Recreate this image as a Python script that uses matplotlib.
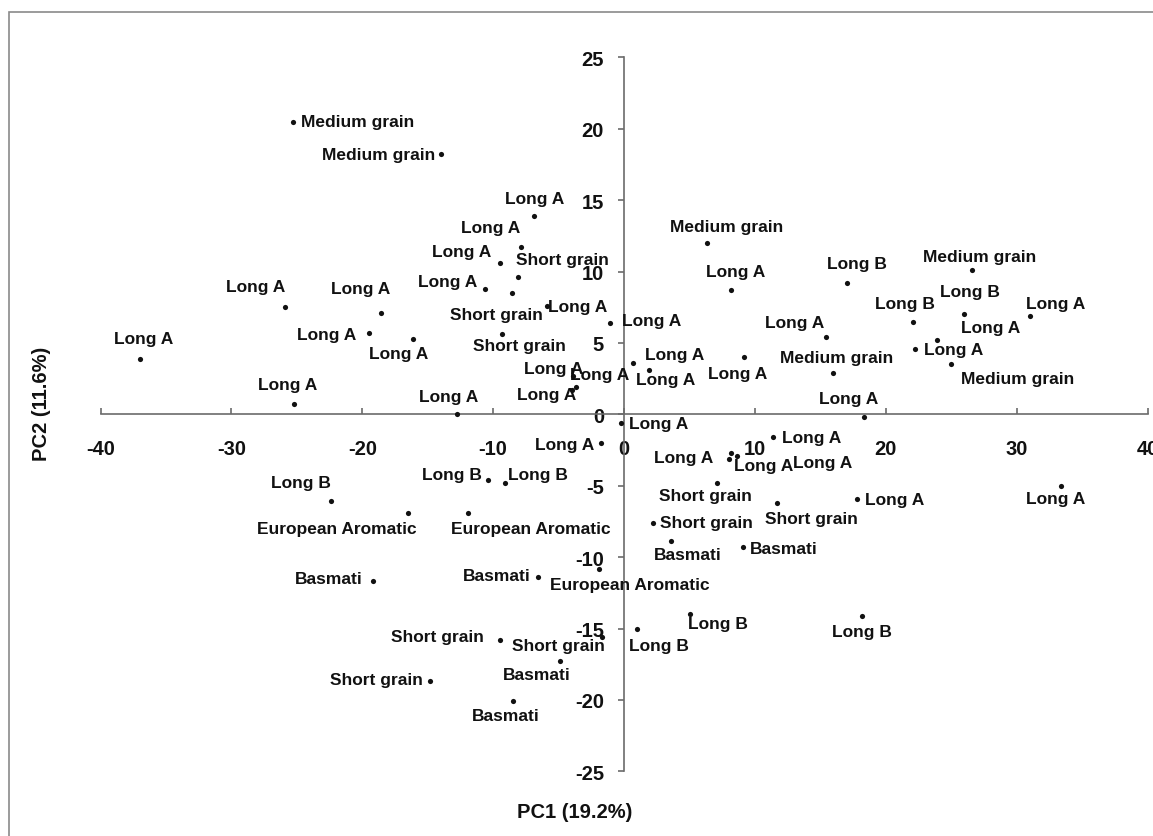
import matplotlib
matplotlib.use("Agg")
import matplotlib.pyplot as plt
from matplotlib.patches import Rectangle

plt.rcParams["font.family"] = ["Liberation Sans", "DejaVu Sans"]

# PCA scores of the rice samples (PC1, PC2) and their grain-type labels
pc1 = [-25.3, -14.0, -6.9, -7.9, -9.5, -8.1, -10.6, -8.6, -5.9, -1.1, -9.3,
       -25.9, -18.6, -19.5, -16.1, -37.0, -25.2, -12.8, -3.9, -4.0, -3.7,
       0.7, 1.9, -0.2, -1.8, 6.3, 8.2, 9.2, 17.0, 15.4, 16.0, 18.3, 22.1,
       22.2, 23.9, 25.0, 31.0, 26.6, 26.0, 11.4, 8.2, 8.6, 8.0, 17.8, 33.4,
       7.1, 2.2, 11.7, 3.6, 9.1, 18.2, 5.0, 1.0, -10.4, -9.1, -16.5, -11.9,
       -1.9, -6.6, -22.4, -19.2, -9.5, -1.7, -4.9, -14.8, -8.5]
pc2 = [20.5, 18.2, 13.9, 11.7, 10.6, 9.6, 8.8, 8.5, 7.6, 6.4, 5.6,
       7.5, 7.1, 5.7, 5.3, 3.9, 0.7, 0.0, 2.7, 1.7, 1.9,
       3.6, 3.1, -0.6, -2.0, 12.0, 8.7, 4.0, 9.2, 5.4, 2.9, -0.2, 6.5,
       4.6, 5.2, 3.5, 6.9, 10.1, 7.0, -1.6, -2.7, -2.9, -3.1, -5.9, -5.0,
       -4.8, -7.6, -6.2, -8.9, -9.3, -14.1, -14.0, -15.0, -4.6, -4.8, -6.9, -6.9,
       -10.8, -11.4, -6.1, -11.7, -15.8, -15.6, -17.3, -18.7, -20.1]
grain = ["Medium grain", "Medium grain", "Long A", "Long A", "Long A", "Short grain",
         "Long A", "Short grain", "Long A", "Long A", "Short grain",
         "Long A", "Long A", "Long A", "Long A", "Long A", "Long A", "Long A",
         "Long A", "Long A", "Long A",
         "Long A", "Long A", "Long A", "Long A", "Medium grain", "Long A", "Long A",
         "Long B", "Long A", "Medium grain", "Long A", "Long B",
         "Long A", "Long A", "Medium grain", "Long A", "Medium grain", "Long B",
         "Long A", "Long A", "Long A", "Long A", "Long A", "Long A",
         "Short grain", "Short grain", "Short grain", "Basmati", "Basmati",
         "Long B", "Long B", "Long B", "Long B", "Long B",
         "European Aromatic", "European Aromatic",
         "European Aromatic", "Basmati", "Long B", "Basmati",
         "Short grain", "Short grain", "Basmati", "Short grain", "Basmati"]

x_ticks = [-40, -30, -20, -10, 0, 10, 20, 30, 40]
y_ticks = [-25, -20, -15, -10, -5, 0, 5, 10, 15, 20, 25]

# label placement: pixel offset from the point (right, down) and alignment
label_pos = [
    (8, 0, "l"), (-6, 0, "r"), (1, -17, "c"), (-30, -20, "c"), (-8, -11, "r"),
    (-2, -18, "l"), (-8, -7, "r"), (-15, 22, "c"), (1, 1, "l"), (12, -2, "l"),
    (17, 11, "c"), (-29, -21, "c"), (-20, -24, "c"), (-13, 2, "r"), (-15, 15, "c"),
    (4, -20, "c"), (-7, -20, "c"), (-8, -18, "c"), (-19, -7, "c"), (-25, 4, "c"),
    (24, -13, "c"), (12, -8, "l"), (17, 9, "c"), (8, 1, "l"), (-6, 2, "r"),
    (20, -16, "c"), (4, -19, "c"), (-7, 16, "c"), (10, -19, "c"), (-31, -15, "c"),
    (3, -15, "c"), (-15, -19, "c"), (-8, -18, "c"), (9, 1, "l"), (54, -13, "c"),
    (10, 14, "l"), (26, -12, "c"), (7, -14, "c"), (6, -23, "c"), (9, 0, "l"),
    (62, 10, "l"), (27, 10, "c"), (-16, -1, "r"), (8, 1, "l"), (-6, 13, "c"),
    (-12, 13, "c"), (7, 0, "l"), (34, 16, "c"), (17, 13, "c"), (7, 1, "l"),
    (0, 16, "c"), (28, 9, "c"), (22, 17, "c"), (-6, -6, "r"), (3, -8, "l"),
    (-71, 16, "c"), (62, 16, "c"), (31, 16, "c"), (-7, -2, "r"), (-30, -19, "c"),
    (-10, -3, "r"), (-16, -3, "r"), (-43, 8, "c"), (-23, 13, "c"), (-7, -2, "r"),
    (-7, 14, "c"),
]
HA = {"l": "left", "c": "center", "r": "right"}

AXIS = "#6b6b6b"
INK = "#111111"

fig = plt.figure(figsize=(11.53, 8.37), dpi=100)
ax = fig.add_axes([0.0872, 0.0773, 0.9081, 0.8530])

ax.scatter(pc1, pc2, s=14, color=INK, linewidths=0, zorder=3)
for x, y, txt, (dx, dy, ha) in zip(pc1, pc2, grain, label_pos):
    ax.annotate(txt, (x, y), xytext=(dx, -dy), textcoords="offset pixels",
                ha=HA[ha], va="center", fontsize=12.5, fontweight="bold",
                color=INK, annotation_clip=False, zorder=4)

ax.set_xlim(-40, 40)
ax.set_ylim(-25, 25)
ax.set_xticks(x_ticks)
ax.set_yticks(y_ticks)
ax.set_xticklabels([f"{t}" for t in x_ticks])
ax.set_yticklabels([f"{t}" for t in y_ticks])

# axes cross at the origin
ax.spines["left"].set_position(("data", 0))
ax.spines["bottom"].set_position(("data", 0))
ax.spines["top"].set_visible(False)
ax.spines["right"].set_visible(False)
for s in ("left", "bottom"):
    ax.spines[s].set_color(AXIS)
    ax.spines[s].set_linewidth(1.2)
ax.tick_params(axis="x", direction="in", length=4, width=1.2, color=AXIS,
               pad=18, labelsize=14.5, labelcolor=INK)
ax.tick_params(axis="y", direction="out", length=4.5, width=1.2, color=AXIS,
               pad=10, labelsize=14.5, labelcolor=INK)
for lab in ax.get_xticklabels() + ax.get_yticklabels():
    lab.set_fontweight("bold")
ax.patch.set_visible(False)

fig.text(575 / 1153, 1 - 813 / 837, "PC1 (19.2%)", ha="center", va="center",
         fontsize=14.5, fontweight="bold", color=INK)
fig.text(42 / 1153, 1 - 404 / 837, "PC2 (11.6%)", ha="center", va="center",
         rotation=90, fontsize=14.5, fontweight="bold", color=INK)

# chart-area frame
fig.patches.append(Rectangle((9 / 1153, -0.05), 1.1, 1 - 13 / 837 + 0.05,
                             transform=fig.transFigure, fill=False,
                             edgecolor="#8a8a8a", linewidth=1.2))

fig.savefig("out.png", dpi=100)
